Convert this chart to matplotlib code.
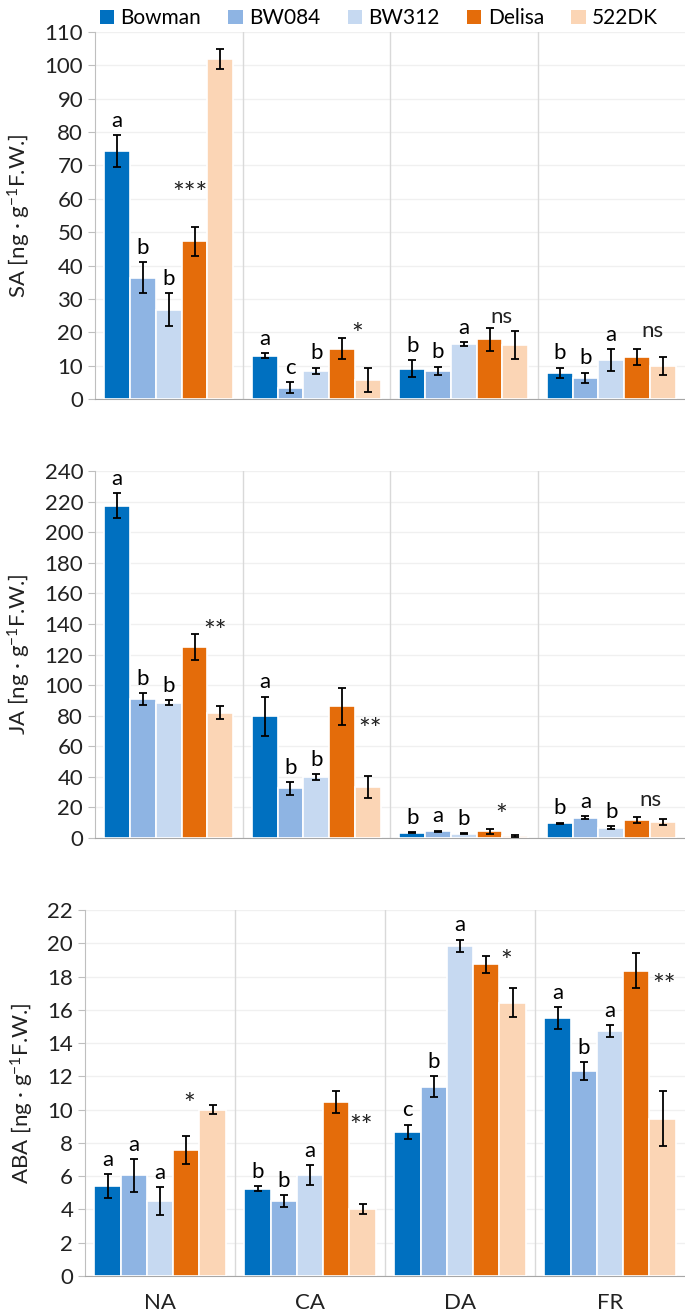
import matplotlib
matplotlib.use("Agg")
import matplotlib.pyplot as plt
from matplotlib.patches import Patch
import numpy as np

plt.rcParams["font.family"] = ["Lato", "DejaVu Sans"]
plt.rcParams["mathtext.fontset"] = "custom"
plt.rcParams["mathtext.rm"] = "Lato"
plt.rcParams["mathtext.it"] = "Lato"

groups = ["NA", "CA", "DA", "FR"]
lines = ["Bowman", "BW084", "BW312", "Delisa", "522DK"]
colors = ["#0070C0", "#8EB4E3", "#C6D9F1", "#E46C0A", "#FBD5B5"]

# SA, rows = groups, cols = lines
sa_mean = [[74.2, 36.4, 26.8, 47.3, 102.0],
           [13.0, 3.4, 8.5, 15.1, 5.7],
           [9.1, 8.5, 16.4, 17.9, 16.2],
           [7.9, 6.4, 11.7, 12.5, 10.0]]
sa_err = [[4.8, 4.6, 4.9, 4.3, 3.0],
          [0.8, 1.6, 0.9, 3.2, 3.7],
          [2.6, 1.2, 0.6, 3.5, 4.1],
          [1.5, 1.5, 3.3, 2.4, 2.7]]
sa_letters = [["a", "b", "b"], ["a", "c", "b"], ["b", "b", "a"], ["b", "b", "a"]]
sa_sig = ["***", "*", "ns", "ns"]
sa_sig_x = [2.82, 3.6, 3.47, 3.6]
sa_sig_y = [61, 19, 24.5, 20.5]

# JA
ja_mean = [[217.3, 90.8, 88.4, 124.6, 81.9],
           [79.5, 32.4, 39.9, 86.1, 33.4],
           [3.5, 4.4, 2.9, 4.3, 1.2],
           [9.6, 13.3, 6.7, 11.5, 10.6]]
ja_err = [[8.3, 4.1, 1.7, 8.5, 4.4],
          [13.0, 4.2, 1.7, 12.0, 7.2],
          [0.4, 0.5, 0.2, 1.6, 0.8],
          [0.5, 1.1, 0.9, 2.0, 1.9]]
ja_letters = [["a", "b", "b"], ["a", "b", "b"], ["b", "a", "b"], ["b", "a", "b"]]
ja_sig = ["**", "**", "*", "ns"]
ja_sig_x = [3.79, 4.1, 3.46, 3.51]
ja_sig_y = [134, 70, 14, 24.8]

# ABA
aba_mean = [[5.42, 6.05, 4.52, 7.57, 10.0],
            [5.24, 4.48, 6.07, 10.45, 4.02],
            [8.68, 11.39, 19.85, 18.73, 16.42],
            [15.49, 12.32, 14.73, 18.36, 9.46]]
aba_err = [[0.72, 1.0, 0.83, 0.84, 0.28],
           [0.16, 0.36, 0.6, 0.67, 0.3],
           [0.42, 0.65, 0.37, 0.53, 0.87],
           [0.67, 0.52, 0.35, 1.03, 1.67]]
aba_letters = [["a", "a", "a"], ["b", "b", "a"], ["c", "b", "a"], ["a", "b", "a"]]
aba_sig = ["*", "**", "*", "**"]
aba_sig_x = [3.1, 3.96, 3.75, 4.05]
aba_sig_y = [10.2, 8.9, 18.8, 17.4]

W = 0.175
FS = 16


def draw_panel(ax, means, errs, letters, sig, sig_x, sig_y, ymax, step, ylabel, xlabels):
    means = np.array(means)
    errs = np.array(errs)
    xs = np.arange(len(groups))
    for k in range(len(lines)):
        ax.bar(xs + (k - 2) * W, means[:, k], W, yerr=errs[:, k], color=colors[k],
               edgecolor="white", linewidth=1.2, zorder=3,
               error_kw=dict(ecolor="black", elinewidth=1.3, capsize=3, capthick=1.3, zorder=4))
    for g in range(len(groups)):
        for k, lab in enumerate(letters[g]):
            ax.annotate(lab, xy=(g + (k - 2) * W, means[g, k] + errs[g, k]),
                        xytext=(0, 3), textcoords="offset points",
                        ha="center", va="bottom", fontsize=FS, zorder=5)
        fs = 20 if "*" in sig[g] else FS
        ax.text(g + (sig_x[g] - 2) * W, sig_y[g], sig[g], ha="center", va="center",
                fontsize=fs, zorder=5, color="#222222")
    for xv in [0.5, 1.5, 2.5]:
        ax.axvline(xv, color="#d9d9d9", lw=1, zorder=1)
    ax.set_xlim(-0.5, 3.5)
    ax.set_ylim(0, ymax)
    ax.set_yticks(np.arange(0, ymax + 0.1, step))
    ax.yaxis.grid(True, color="#f0f0f0", lw=1)
    ax.set_axisbelow(True)
    ax.spines["top"].set_visible(False)
    ax.spines["right"].set_visible(False)
    ax.spines["left"].set_color("#bfbfbf")
    ax.spines["bottom"].set_color("#a6a6a6")
    ax.tick_params(axis="y", length=5, colors="#bfbfbf", labelsize=FS)
    for t in ax.get_yticklabels():
        t.set_color("#222222")
    ax.set_ylabel(ylabel, fontsize=FS, color="#222222", labelpad=8)
    if xlabels:
        ax.set_xticks(xs)
        ax.set_xticklabels(groups, fontsize=FS, color="#222222")
        ax.tick_params(axis="x", length=0, pad=12)
    else:
        ax.set_xticks([])


fig = plt.figure(figsize=(6.85, 13.15), dpi=100)
ax1 = fig.add_axes([95 / 685, 1 - 399 / 1315, 590 / 685, 367 / 1315])
ax2 = fig.add_axes([95 / 685, 1 - 838 / 1315, 590 / 685, 367 / 1315])
ax3 = fig.add_axes([85 / 685, 1 - 1276 / 1315, 600 / 685, 366 / 1315])

draw_panel(ax1, sa_mean, sa_err, sa_letters, sa_sig, sa_sig_x, sa_sig_y, 110, 10,
           "SA [ng · g$^{-1}$F.W.]", False)
draw_panel(ax2, ja_mean, ja_err, ja_letters, ja_sig, ja_sig_x, ja_sig_y, 240, 20,
           "JA [ng · g$^{-1}$F.W.]", False)
draw_panel(ax3, aba_mean, aba_err, aba_letters, aba_sig, aba_sig_x, aba_sig_y, 22, 2,
           "ABA [ng · g$^{-1}$F.W.]", True)

handles = [Patch(facecolor=c) for c in colors]
fig.legend(handles, lines, loc="upper center", bbox_to_anchor=(0.553, 1.008), ncol=5,
           frameon=False, fontsize=15, handlelength=0.7, handleheight=0.7,
           handletextpad=0.3, columnspacing=1.3)

fig.savefig("out.png", dpi=100)
